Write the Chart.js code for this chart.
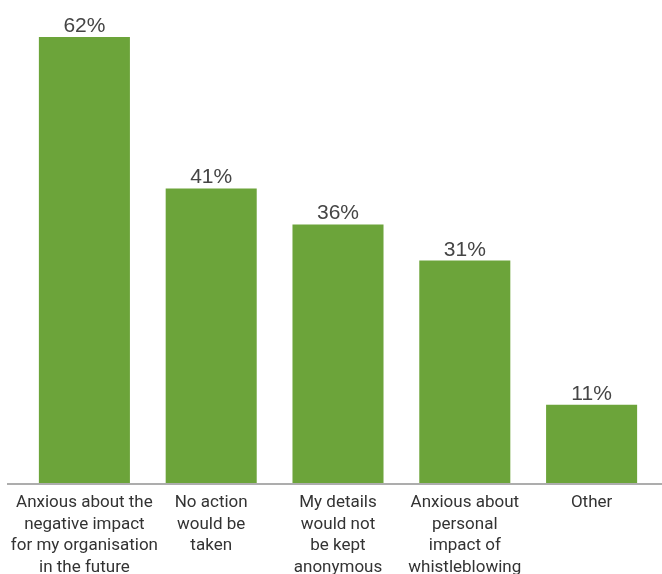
<!DOCTYPE html>
<html>
<head>
<meta charset="utf-8">
<script src="https://cdn.jsdelivr.net/npm/chart.js@4/dist/chart.umd.min.js"></script>
<style>
  html, body { margin: 0; padding: 0; background: #fff; }
  #wrap { width: 662px; height: 574px; }
</style>
</head>
<body>
<div id="wrap"><canvas id="reasonsChart"></canvas></div>
<script>
// reasons for not speaking up, % of respondents
var categories = [
  ['Anxious about the', 'negative impact', 'for my organisation', 'in the future'],
  ['No action', 'would be', 'taken'],
  ['My details', 'would not', 'be kept', 'anonymous'],
  ['Anxious about', 'personal', 'impact of', 'whistleblowing'],
  ['Other']
];
var percentages = [62, 41, 36, 31, 11];

var barGreen = '#6ca43a';

// value labels above each bar + grey baseline across the full width
var barExtras = {
  id: 'barExtras',
  afterDatasetsDraw: function(chart) {
    var ctx = chart.ctx;
    var area = chart.chartArea;
    ctx.save();
    ctx.strokeStyle = '#adadad';
    ctx.lineWidth = 2;
    ctx.beginPath();
    ctx.moveTo(7, area.bottom);
    ctx.lineTo(chart.width, area.bottom);
    ctx.stroke();

    ctx.fillStyle = '#454545';
    ctx.font = '21px "Liberation Sans", Arial, sans-serif';
    ctx.textAlign = 'center';
    ctx.textBaseline = 'alphabetic';
    chart.getDatasetMeta(0).data.forEach(function(bar, i) {
      ctx.fillText(percentages[i] + '%', bar.x, bar.y - 5);
    });
    ctx.restore();
  }
};

new Chart(document.getElementById('reasonsChart'), {
  type: 'bar',
  data: {
    labels: categories,
    datasets: [{
      data: percentages,
      backgroundColor: barGreen,
      borderWidth: 0,
      barPercentage: 0.718,
      categoryPercentage: 1
    }]
  },
  options: {
    responsive: true,
    maintainAspectRatio: false,
    animation: false,
    layout: { padding: { top: 37, left: 21, right: 7, bottom: 0 } },
    plugins: {
      legend: { display: false },
      tooltip: { enabled: false }
    },
    scales: {
      x: {
        grid: { display: false, drawTicks: false },
        border: { display: false },
        ticks: {
          color: '#333',
          padding: 8,
          maxRotation: 0,
          autoSkip: false,
          font: { family: '"Roboto", sans-serif', size: 17, lineHeight: 1.27 }
        },
        afterFit: function(scale) { scale.height = 90; }
      },
      y: {
        display: false,
        min: 0,
        max: 62
      }
    }
  },
  plugins: [barExtras]
});
</script>
</body>
</html>
